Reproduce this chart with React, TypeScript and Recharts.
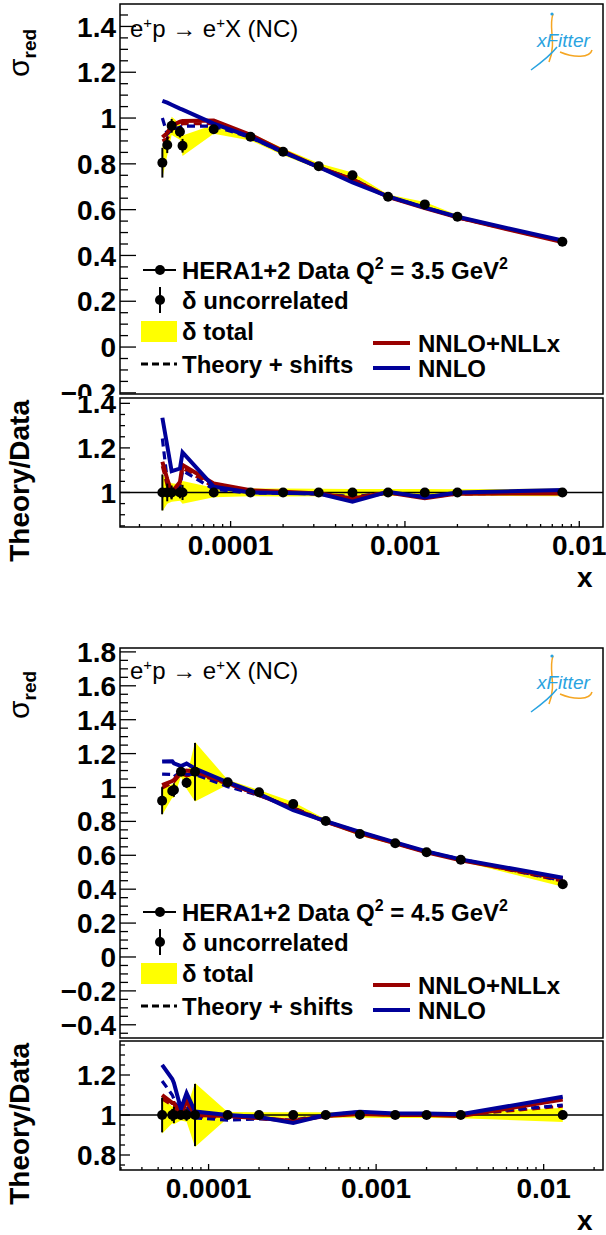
import React from "react";
import { Area, ComposedChart, ErrorBar, Line, ReferenceLine, Scatter, XAxis, YAxis } from "recharts";

const RED = "#990000";
const BLUE = "#000099";
const YELLOW = "#ffff00";
const FONT = "'Liberation Sans', Arial, Helvetica, sans-serif";
const W = 606;
const PL = 120; // left edge of every frame
const PR = 3;

const MAJOR_X = [1e-4, 1e-3, 1e-2];
const X_LABELS = ["0.0001", "0.001", "0.01"];

// Q2 = 3.5 GeV2
const X35 = [4.06e-5, 4.33e-5, 4.59e-5, 5.12e-5, 5.3e-5, 8e-5, 1.3e-4, 2e-4, 3.2e-4, 5e-4, 8e-4, 1.3e-3, 2e-3, 8e-3];
const DATA35 = [0.805, 0.882, 0.966, 0.94, 0.879, 0.951, 0.918, 0.853, 0.79, 0.75, 0.656, 0.623, 0.569, 0.46];
const UNC35 = [0.065, 0.035, 0.03, 0.025, 0.03, 0.012, 0.01, 0.008, 0.008, 0.008, 0.006, 0.006, 0.005, 0.005];
const TOT35 = [0.068, 0.045, 0.04, 0.035, 0.045, 0.02, 0.016, 0.015, 0.013, 0.012, 0.01, 0.01, 0.008, 0.008];
const NNLO35 = [1.075, 1.067, 1.058, 1.041, 1.037, 0.976, 0.918, 0.851, 0.786, 0.719, 0.658, 0.609, 0.569, 0.465];
const NLLX35 = [0.916, 0.935, 0.966, 0.984, 0.987, 0.989, 0.927, 0.856, 0.786, 0.73, 0.656, 0.607, 0.566, 0.458];
const NNLO_SH35 = [1.0, 0.93, 0.95, 0.96, 0.965, 0.965, 0.915, 0.85, 0.785, 0.735, 0.655, 0.612, 0.566, 0.462];
const NLLX_SH35 = [0.9, 0.91, 0.95, 0.97, 0.975, 0.975, 0.92, 0.852, 0.785, 0.735, 0.655, 0.61, 0.565, 0.46];

// Q2 = 4.5 GeV2
const X45 = [5.28e-5, 6.07e-5, 6.21e-5, 6.84e-5, 7.39e-5, 8.3e-5, 1.3e-4, 2e-4, 3.2e-4, 5e-4, 8e-4, 1.3e-3, 2e-3, 3.2e-3, 1.3e-2];
const DATA45 = [0.922, 0.979, 0.985, 1.093, 1.028, 1.093, 1.031, 0.972, 0.903, 0.802, 0.726, 0.671, 0.618, 0.574, 0.429];
const UNC45 = [0.08, 0.03, 0.04, 0.02, 0.03, 0.17, 0.01, 0.008, 0.008, 0.007, 0.006, 0.006, 0.005, 0.005, 0.006];
const TOT45 = [0.085, 0.04, 0.045, 0.03, 0.035, 0.175, 0.015, 0.013, 0.012, 0.011, 0.01, 0.01, 0.009, 0.009, 0.015];
const NNLO45 = [1.153, 1.155, 1.143, 1.126, 1.141, 1.112, 1.031, 0.962, 0.867, 0.802, 0.738, 0.676, 0.623, 0.576, 0.468];
const NLLX45 = [1.014, 1.038, 1.044, 1.093, 1.1, 1.093, 1.026, 0.957, 0.876, 0.798, 0.73, 0.671, 0.618, 0.571, 0.462];
const NNLO_SH45 = [1.079, 1.077, 1.064, 1.093, 1.079, 1.077, 1.005, 0.953, 0.88, 0.802, 0.737, 0.674, 0.621, 0.577, 0.45];
const NLLX_SH45 = [0.996, 1.028, 1.034, 1.082, 1.069, 1.082, 1.021, 0.957, 0.876, 0.798, 0.73, 0.671, 0.618, 0.574, 0.448];

const MAIN35_Y = [-0.2, 0, 0.2, 0.4, 0.6, 0.8, 1, 1.2, 1.4];
const MAIN45_Y = [-0.4, -0.2, 0, 0.2, 0.4, 0.6, 0.8, 1, 1.2, 1.4, 1.6, 1.8];
const RATIO35_Y = [1, 1.2, 1.4];
const RATIO45_Y = [0.8, 1, 1.2];

function logTicks(lo: number, hi: number) {
  const out: number[] = [];
  for (let e = Math.floor(Math.log10(lo)); e <= Math.ceil(Math.log10(hi)); e++)
    for (let m = 1; m <= 9; m++) {
      const v = m * Math.pow(10, e);
      if (v >= lo && v <= hi) out.push(v);
    }
  return out;
}

function stepTicks(lo: number, hi: number, step: number) {
  const out: number[] = [];
  for (let k = Math.ceil(lo / step - 1e-9); k * step <= hi + 1e-9; k++) out.push(Math.round(k * step * 1e6) / 1e6);
  return out;
}

const fmtY = (v: number) => (Math.abs(v) < 1e-9 ? "0" : String(+v.toFixed(1)).replace("-", "\u2212"));

function Plot(props: any) {
  const { xs, data, unc, tot, ratio, theory, xDomain, yDomain, yMajor, height, top, mb, xAxisH } = props;
  const band = xs.map((x: number, i: number) => ({
    x,
    band: ratio ? [1 - tot[i] / data[i], 1 + tot[i] / data[i]] : [data[i] - tot[i], data[i] + tot[i]],
  }));
  const pts = xs.map((x: number, i: number) => ({ x, y: ratio ? 1 : data[i], err: ratio ? unc[i] / data[i] : unc[i] }));
  const xTicks = logTicks(xDomain[0], xDomain[1]);
  const yTicks = stepTicks(yDomain[0], yDomain[1], 0.05);
  const yBig = ratio ? [10, 5] : [16, 8];
  const xBig = ratio ? [6, 3] : [9, 4];

  const xTick = (p: any) => {
    const v = p.payload.value;
    const idx = MAJOR_X.findIndex((m) => Math.abs(m - v) / m < 1e-6);
    const len = idx >= 0 ? xBig[0] : xBig[1];
    return (
      <g>
        <line x1={p.x} x2={p.x} y1={p.y} y2={p.y - len} stroke="#000" strokeWidth={1.3} />
        {ratio && idx >= 0 && (
          <text x={p.x} y={p.y + 28} textAnchor="middle" fontSize={28} fontWeight="bold" fontFamily={FONT} fill="#000">
            {X_LABELS[idx]}
          </text>
        )}
      </g>
    );
  };
  const yTick = (p: any) => {
    const v = p.payload.value;
    const major = yMajor.some((m: number) => Math.abs(m - v) < 1e-6);
    return (
      <g>
        <line x1={PL} x2={PL + (major ? yBig[0] : yBig[1])} y1={p.y} y2={p.y} stroke="#000" strokeWidth={1.3} />
        {major && (
          <text x={PL - 4} y={p.y} dy="0.36em" textAnchor="end" fontSize={28} fontWeight="bold" fontFamily={FONT} fill="#000">
            {fmtY(v)}
          </text>
        )}
      </g>
    );
  };

  return (
    <ComposedChart width={W} height={height} margin={{ top, right: PR, bottom: mb, left: 0 }}>
      <XAxis
        dataKey="x"
        type="number"
        scale="log"
        domain={xDomain}
        allowDataOverflow
        ticks={xTicks}
        interval={0}
        height={xAxisH}
        axisLine={false}
        tickLine={false}
        tickSize={0}
        tickMargin={0}
        tick={xTick}
      />
      <YAxis
        dataKey="y"
        type="number"
        domain={yDomain}
        allowDataOverflow
        ticks={yTicks}
        interval={0}
        width={PL}
        axisLine={false}
        tickLine={false}
        tickSize={0}
        tickMargin={0}
        tick={yTick}
      />
      <Area data={band} dataKey="band" type="linear" stroke="none" fill={YELLOW} fillOpacity={1} isAnimationActive={false} />
      {ratio && <ReferenceLine y={1} stroke="#000" strokeWidth={1.5} />}
      {theory.map((t: any, k: number) => (
        <Line
          key={k}
          data={xs.map((x: number, i: number) => ({ x, y: ratio ? t.vals[i] / data[i] : t.vals[i] }))}
          dataKey="y"
          type="linear"
          stroke={t.color}
          strokeWidth={t.dash ? 3.2 : 4}
          strokeDasharray={t.dash ? "8 5" : undefined}
          dot={false}
          isAnimationActive={false}
        />
      ))}
      <Scatter
        data={pts}
        dataKey="y"
        fill="#000"
        isAnimationActive={false}
        shape={(p: any) => <circle cx={p.cx} cy={p.cy} r={5} fill="#000" />}
      >
        <ErrorBar dataKey="err" direction="y" width={0} stroke="#000" strokeWidth={2} isAnimationActive={false} />
      </Scatter>
    </ComposedChart>
  );
}

function MainOverlay({ h, frameTop, dy, q2 }: any) {
  return (
    <svg width={W} height={h} style={{ position: "absolute", left: 0, top: 0, pointerEvents: "none" }} fontFamily={FONT}>
      <rect x={PL} y={frameTop} width={W - PL - PR} height={390} fill="none" stroke="#000" strokeWidth={1.5} />
      <text transform={`translate(29,${77 + dy}) rotate(-90)`} fontSize={30} fill="#000">
        σ
        <tspan dy={7} fontSize={19} fontWeight="bold">
          red
        </tspan>
      </text>
      <text x={130} y={37 + dy} fontSize={24} fill="#000">
        e
        <tspan dy={-9} fontSize={15}>
          +
        </tspan>
        <tspan dy={9}>p → e</tspan>
        <tspan dy={-9} fontSize={15}>
          +
        </tspan>
        <tspan dy={9}>X (NC)</tspan>
      </text>
      {/* xFitter logo */}
      <g transform={`translate(0,${dy})`}>
        <path d="M553 14 C 548 28, 557 42, 549 62" stroke="#f5a623" strokeWidth={1.5} fill="none" />
        <path d="M531 70 C 542 62, 550 56, 557 47" stroke="#29a3e0" strokeWidth={1.5} fill="none" />
        <path d="M560 52 C 574 58, 590 58, 592 50" stroke="#f5a623" strokeWidth={1.5} fill="none" />
        <circle cx={552} cy={14} r={1.6} fill="#29a3e0" />
        <text x={537} y={47} fontSize={19} fontStyle="italic" fill="#29a3e0">
          xFitter
        </text>
      </g>
      <g transform={`translate(0,${dy})`}>
        <line x1={143} x2={176} y1={270} y2={270} stroke="#000" strokeWidth={2} />
        <circle cx={160} cy={270} r={5} fill="#000" />
        <text x={182} y={279} fontSize={24} fontWeight="bold" fill="#000">
          HERA1+2 Data Q
          <tspan dy={-10} fontSize={16}>
            2
          </tspan>
          <tspan dy={10}>{` = ${q2} GeV`}</tspan>
          <tspan dy={-10} fontSize={16}>
            2
          </tspan>
        </text>
        <line x1={160} x2={160} y1={287} y2={313} stroke="#000" strokeWidth={2} />
        <circle cx={160} cy={300} r={5} fill="#000" />
        <text x={182} y={309} fontSize={24} fontWeight="bold" fill="#000">
          δ uncorrelated
        </text>
        <rect x={141} y={321} width={36} height={21} fill={YELLOW} />
        <text x={182} y={340} fontSize={24} fontWeight="bold" fill="#000">
          δ total
        </text>
        <line x1={141} x2={177} y1={364} y2={364} stroke="#000" strokeWidth={3} strokeDasharray="7 4" />
        <text x={182} y={373} fontSize={24} fontWeight="bold" fill="#000">
          Theory + shifts
        </text>
        <line x1={373} x2={410} y1={343} y2={343} stroke={RED} strokeWidth={4} />
        <text x={418} y={352} fontSize={24} fontWeight="bold" fill="#000">
          NNLO+NLLx
        </text>
        <line x1={373} x2={410} y1={368} y2={368} stroke={BLUE} strokeWidth={4} />
        <text x={418} y={377} fontSize={24} fontWeight="bold" fill="#000">
          NNLO
        </text>
      </g>
    </svg>
  );
}

function RatioOverlay({ h, frameTop, xY }: any) {
  return (
    <svg width={W} height={h} style={{ position: "absolute", left: 0, top: 0, pointerEvents: "none" }} fontFamily={FONT}>
      <rect x={PL} y={frameTop} width={W - PL - PR} height={129} fill="none" stroke="#000" strokeWidth={1.5} />
      <text transform={`translate(29,${frameTop + 2}) rotate(-90)`} textAnchor="end" fontSize={28} fontWeight="bold" fill="#000">
        Theory/Data
      </text>
      <text x={577} y={xY} fontSize={28} fontWeight="bold" fill="#000">
        x
      </text>
    </svg>
  );
}

function Box({ top, h, children }: any) {
  return (
    <div style={{ position: "absolute", left: 0, top, width: W, height: h, overflow: "hidden" }}>{children}</div>
  );
}

export default function App() {
  const th35 = [
    { vals: NLLX_SH35, color: RED, dash: true },
    { vals: NNLO_SH35, color: BLUE, dash: true },
    { vals: NLLX35, color: RED },
    { vals: NNLO35, color: BLUE },
  ];
  const th45 = [
    { vals: NLLX_SH45, color: RED, dash: true },
    { vals: NNLO_SH45, color: BLUE, dash: true },
    { vals: NLLX45, color: RED },
    { vals: NNLO45, color: BLUE },
  ];
  const xDom35 = [2.32e-5, 0.01368];
  const xDom45 = [2.96e-5, 0.0226];
  const common35 = { xs: X35, data: DATA35, unc: UNC35, tot: TOT35, theory: th35, xDomain: xDom35 };
  const common45 = { xs: X45, data: DATA45, unc: UNC45, tot: TOT45, theory: th45, xDomain: xDom45 };

  return (
    <div style={{ position: "absolute", left: 0, top: 0, width: W, height: 1235, background: "#fff", fontFamily: FONT }}>
      <Box top={0} h={396}>
        <Plot {...common35} ratio={false} yDomain={[-0.205, 1.498]} yMajor={MAIN35_Y} height={396} top={4} mb={2} xAxisH={0} />
        <MainOverlay h={396} frameTop={4} dy={0} q2="3.5" />
      </Box>
      <Box top={396} h={200}>
        <Plot {...common35} ratio yDomain={[0.845, 1.424]} yMajor={RATIO35_Y} height={200} top={2} mb={0} xAxisH={69} />
        <RatioOverlay h={200} frameTop={2} xY={191} />
      </Box>
      <Box top={600} h={440}>
        <Plot {...common45} ratio={false} yDomain={[-0.478, 1.823]} yMajor={MAIN45_Y} height={440} top={48} mb={2} xAxisH={0} />
        <MainOverlay h={440} frameTop={48} dy={42} q2="4.5" />
      </Box>
      <Box top={1040} h={195}>
        <Plot {...common45} ratio yDomain={[0.725, 1.37]} yMajor={RATIO45_Y} height={195} top={1} mb={0} xAxisH={65} />
        <RatioOverlay h={195} frameTop={1} xY={190} />
      </Box>
    </div>
  );
}
